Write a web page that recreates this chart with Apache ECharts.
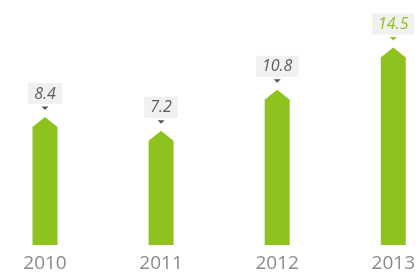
<!DOCTYPE html>
<html><head><meta charset="utf-8">
<script src="https://cdn.jsdelivr.net/npm/echarts@6/dist/echarts.min.js"></script>
<style>html,body{margin:0;padding:0;background:#fff}#c{width:418px;height:274px}</style>
</head><body><div id="c"></div>
<script>
const categories = ['2010', '2011', '2012', '2013'];
const values = [8.4, 7.2, 10.8, 14.5];
const highlight = [false, false, false, true];

const GREEN = '#8dc21f';
const chart = echarts.init(document.getElementById('c'), null, {renderer: 'canvas'});
chart.setOption({
  animation: false,
  grid: {left: 45, right: 19, top: 0, bottom: 29},
  xAxis: {
    type: 'category', data: categories, boundaryGap: false,
    axisLine: {show: false}, axisTick: {show: false},
    axisLabel: {color: '#8a8a8a', fontSize: 19, fontFamily: 'Open Sans', margin: 9}
  },
  yAxis: {type: 'value', min: -2.85, max: 18.68, show: false, splitLine: {show: false}},
  series: [{
    type: 'custom',
    data: values.map((v, i) => [i, v]),
    renderItem: function (params, api) {
      const i = api.value(0), v = api.value(1);
      const top = api.coord([i, v]);
      const bottom = params.coordSys.y + params.coordSys.height;
      const hw = 12.5, cap = 10;
      const x = top[0], y = top[1];
      const hl = highlight[i];
      return {
        type: 'group',
        children: [
          {type: 'polygon', shape: {points: [[x - hw, bottom], [x - hw, y + cap], [x, y], [x + hw, y + cap], [x + hw, bottom]]},
           style: {fill: GREEN}},
          {type: 'polygon', shape: {points: [[x - 3.5, y - 10.5], [x + 3.5, y - 10.5], [x, y - 7]]},
           style: {fill: hl ? GREEN : '#555'}},
          {type: 'text', x: x, y: y - 13,
           style: {text: String(v), fill: hl ? GREEN : '#5e5e5e', font: 'italic 16px "Open Sans"',
                   align: 'center', verticalAlign: 'bottom', backgroundColor: '#f1f1f1',
                   padding: [3, 6, 2, 6]}}
        ]
      };
    }
  }]
});
</script></body></html>
